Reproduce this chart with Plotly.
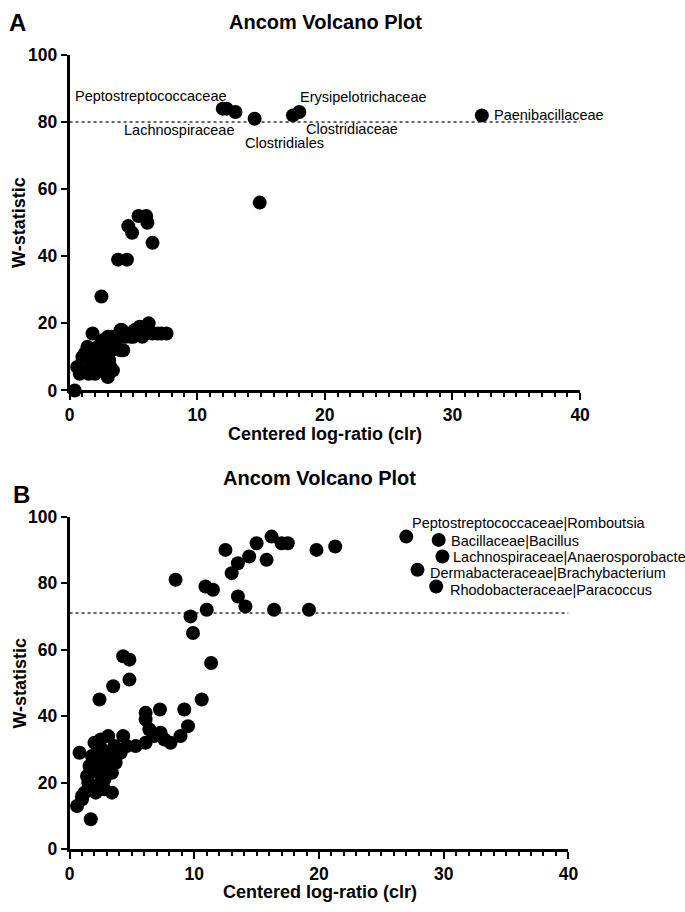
import plotly.graph_objects as go

# ---------------- data ----------------
TITLE = "Ancom Volcano Plot"
X_TITLE = "Centered log-ratio (clr)"
Y_TITLE = "W-statistic"
X_TICKS = [0, 10, 20, 30, 40]
Y_TICKS = [0, 20, 40, 60, 80, 100]

# Panel A
A_CLR = [12.0, 12.3, 13.0, 14.5, 17.5, 18.0, 32.3, 14.9,
         2.5, 3.8, 4.5, 4.6, 4.9, 5.4, 6.0, 6.1, 6.5,
         0.4,
         0.6, 0.8, 1.0, 1.2, 1.5, 1.6, 1.9, 2.0, 2.2, 2.4, 2.7, 3.0, 3.2, 3.4,
         1.0, 1.4, 1.8, 2.2, 2.6, 2.9, 3.1, 3.3, 3.6, 4.0, 4.2, 2.3, 2.8,
         1.8, 2.6, 3.0, 3.3, 3.6, 3.9, 4.1, 4.4, 4.7, 5.0, 5.3, 5.5, 5.8, 6.0,
         6.2, 6.5, 6.9, 7.2, 7.6, 4.0, 5.1, 3.2, 4.8, 5.7]
A_W = [84, 84, 83, 81, 82, 83, 82, 56,
       28, 39, 39, 49, 47, 52, 52, 50, 44,
       0,
       7, 5, 6, 11, 5, 7, 12, 5, 7, 6, 7, 4, 7, 6,
       10, 13, 10, 13, 11, 14, 9, 12, 13, 12, 12, 9, 15,
       17, 15, 16, 16, 15, 17, 18, 16, 17, 16, 17, 19, 18, 17,
       20, 17, 17, 17, 17, 18, 18, 14, 16, 16]
A_THRESHOLD = 80
A_LABELS = ["Peptostreptococcaceae", "Erysipelotrichaceae", "Lachnospiraceae",
            "Clostridiaceae", "Clostridiales", "Paenibacillaceae"]
A_LABEL_POINT = [0, 5, 2, 4, 3, 6]

# Panel B
B_CLR = [27.0, 29.6, 29.9, 27.9, 29.4,
         8.5, 9.7, 9.9, 11.0, 10.9, 11.5, 11.35, 10.6, 12.5, 13.0, 13.5, 13.5,
         14.1, 14.4, 15.0, 15.8, 16.2, 17.0, 17.5, 16.4, 19.2, 19.8, 21.3,
         2.4, 3.5, 4.3, 4.8, 4.8, 6.1, 7.25, 9.2, 9.5, 8.9, 8.1, 7.3, 6.1, 6.4,
         6.1, 5.3, 4.3, 3.1, 2.5, 2.0, 7.6, 6.8,
         0.8, 2.2, 3.1, 3.7, 4.1, 1.4, 2.3, 2.8, 3.4, 1.9, 2.8, 3.4, 1.2, 1.0,
         2.1, 0.6, 1.7, 1.0, 1.6, 2.6, 3.0, 1.8, 2.5, 3.6, 4.6, 2.2, 1.5]
B_W = [94, 93, 88, 84, 79,
       81, 70, 65, 72, 79, 78, 56, 45, 90, 83, 86, 76,
       73, 88, 92, 87, 94, 92, 92, 72, 72, 90, 91,
       45, 49, 58, 57, 51, 41, 42, 42, 37, 34, 32, 35, 39, 36,
       32, 31, 34, 34, 33, 32, 33, 34,
       29, 27, 28, 26, 29, 22, 23, 21, 23, 19, 18, 17, 17, 16,
       17, 13, 9, 15, 25, 30, 25, 28, 20, 31, 31, 24, 20]
B_THRESHOLD = 71
B_LABELS = ["Peptostreptococcaceae|Romboutsia", "Bacillaceae|Bacillus",
            "Lachnospiraceae|Anaerosporobacter", "Dermabacteraceae|Brachybacterium",
            "Rhodobacteraceae|Paracoccus"]
B_LABEL_POINT = [0, 1, 2, 3, 4]

# ---------------- layout / style ----------------
W, H = 685, 912
FONT = "Liberation Sans, Arial, sans-serif"
# label placement (anchor, xshift px, yshift px)
A_LABEL_POS = [("right", 6, 13), ("left", -1, 15), ("right", 1, -18),
               ("left", 11, -14), ("left", -12, -24), ("left", 10, 0)]
B_LABEL_POS = [("left", 4, 14), ("left", 10, -1), ("left", 9, 0),
               ("left", 11, -3), ("left", 12, -4)]


def px_x(p):
    return p / W


def px_y(p):
    return 1 - p / H


fig = go.Figure()
fig.add_trace(go.Scatter(x=A_CLR, y=A_W, mode="markers", xaxis="x", yaxis="y",
                         marker=dict(size=14, color="black", line=dict(width=0)),
                         cliponaxis=False, showlegend=False, hoverinfo="x+y"))
fig.add_trace(go.Scatter(x=B_CLR, y=B_W, mode="markers", xaxis="x2", yaxis="y2",
                         marker=dict(size=14, color="black", line=dict(width=0)),
                         cliponaxis=False, showlegend=False, hoverinfo="x+y"))

tickfont = dict(family=FONT, size=17.5, color="black", weight="bold")


def xax(domain, anchor):
    return dict(domain=domain, anchor=anchor, range=[0, 40], tickvals=X_TICKS,
                ticks="outside", ticklen=7, tickwidth=2, tickcolor="black",
                showline=True, linewidth=2.5, linecolor="black", showgrid=False,
                zeroline=False, tickfont=tickfont, layer="below traces",
                minor=dict(dtick=1, ticks="outside", ticklen=4, tickwidth=1.5,
                           tickcolor="black", showgrid=False))


def yax(domain, anchor):
    return dict(domain=domain, anchor=anchor, range=[0, 100], tickvals=Y_TICKS,
                ticks="outside", ticklen=6, tickwidth=2, tickcolor="black",
                showline=True, linewidth=2.5, linecolor="black", showgrid=False,
                zeroline=False, tickfont=tickfont, layer="below traces")


fig.update_layout(
    width=W, height=H, margin=dict(l=0, r=0, t=0, b=0),
    paper_bgcolor="white", plot_bgcolor="white", showlegend=False,
    xaxis=xax([px_x(66), px_x(588)], "y"),
    yaxis=yax([px_y(389), px_y(46)], "x"),
    xaxis2=xax([px_x(66), px_x(576)], "y2"),
    yaxis2=yax([px_y(858), px_y(518)], "x2"),
)

# threshold lines
for xr, yr, th in (("x", "y", A_THRESHOLD), ("x2", "y2", B_THRESHOLD)):
    fig.add_shape(type="line", xref=xr, yref=yr, x0=0, x1=40, y0=th, y1=th,
                  line=dict(color="#333333", width=1.5, dash="dot"), layer="below")

ann = []
# point labels
for labels, idxs, pos, xs, ys, xr, yr in (
        (A_LABELS, A_LABEL_POINT, A_LABEL_POS, A_CLR, A_W, "x", "y"),
        (B_LABELS, B_LABEL_POINT, B_LABEL_POS, B_CLR, B_W, "x2", "y2")):
    for text, i, (anch, dx, dy) in zip(labels, idxs, pos):
        ann.append(dict(text=text, x=xs[i], y=ys[i], xref=xr, yref=yr,
                        xanchor=anch, yanchor="middle", xshift=dx, yshift=dy,
                        showarrow=False,
                        font=dict(family=FONT, size=14.5, color="black")))

bold = lambda s: dict(family=FONT, size=s, color="black", weight="bold")
# titles
for cx, cy in ((328, 12), (322, 479)):
    ann.append(dict(text=TITLE, x=px_x(cx), y=px_y(cy), xref="paper", yref="paper",
                    xanchor="center", yanchor="middle", showarrow=False, font=bold(20)))
# x titles
for cx, cy in ((327, 434), (322, 902)):
    ann.append(dict(text=X_TITLE, x=px_x(cx), y=px_y(cy), xref="paper", yref="paper",
                    xanchor="center", yanchor="middle", showarrow=False, font=bold(18)))
# y titles
for cx, cy in ((15, 217), (15, 688)):
    ann.append(dict(text=Y_TITLE, x=px_x(cx), y=px_y(cy), xref="paper", yref="paper",
                    xanchor="center", yanchor="middle", textangle=-90,
                    showarrow=False, font=bold(18)))
# panel letters
for t, cx, cy in (("A", 13, 13), ("B", 17, 495)):
    ann.append(dict(text=t, x=px_x(cx), y=px_y(cy), xref="paper", yref="paper",
                    xanchor="center", yanchor="middle", showarrow=False, font=bold(24)))

fig.update_layout(annotations=ann)
fig.write_html(
    "out.html",
    config={"displayModeBar": False},
    post_script="document.body.style.margin='0';document.body.style.overflow='hidden';",
)
